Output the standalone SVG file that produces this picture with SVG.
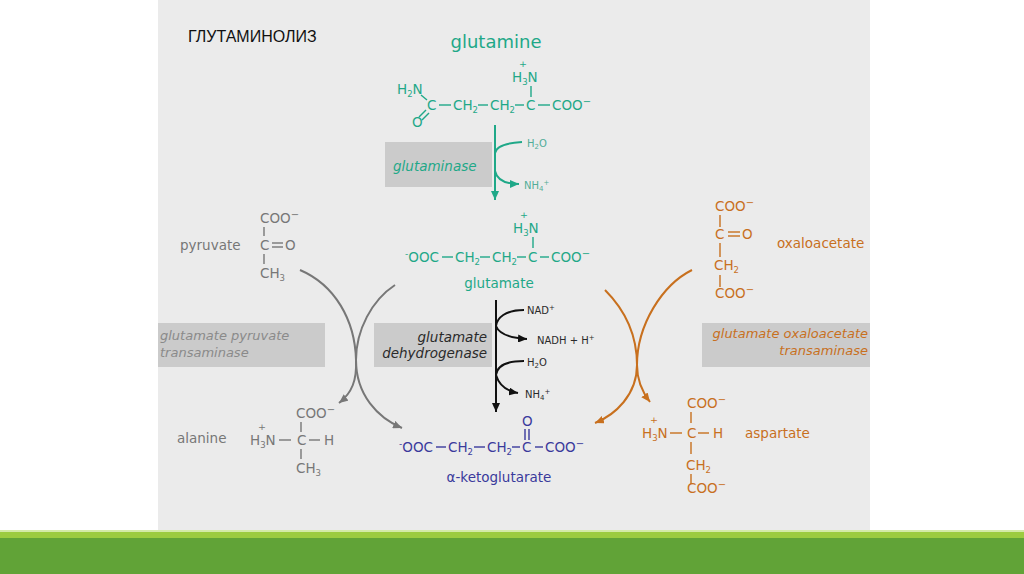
<svg xmlns="http://www.w3.org/2000/svg" width="1024" height="574" viewBox="0 0 1024 574">
<defs>
<style>
text{font-family:"DejaVu Sans",Verdana,sans-serif;font-size:13.5px}
.teal{fill:#1fa888}
.tealL{fill:#52ad98}
.gray{fill:#777777}
.org{fill:#c8701e}
.blue{fill:#3a3a9c}
.dark{fill:#2a2a2a}
.b{stroke-width:1.4;fill:none}
.bt{stroke:#1fa888}
.bg{stroke:#777777}
.bo{stroke:#c8701e}
.bb{stroke:#3a3a9c}
.sub{font-size:8.5px}
.sup{font-size:10px}
.lead{font-size:9px}
.sm{font-size:10px}
.pl{font-size:9.5px}
.enz{font-size:13.5px;font-style:italic}
.enz2{font-size:13px;font-style:italic}
.box{fill:#cbcbcb}
.cv{fill:none;stroke-width:2}
</style>
<marker id="mT" markerUnits="userSpaceOnUse" markerWidth="9" markerHeight="8" refX="9" refY="4" orient="auto"><path d="M0,0 L9,4 L0,8 z" fill="#1fa888"/></marker>
<marker id="mK" markerUnits="userSpaceOnUse" markerWidth="9" markerHeight="8" refX="9" refY="4" orient="auto"><path d="M0,0 L9,4 L0,8 z" fill="#111"/></marker>
<marker id="mG" markerUnits="userSpaceOnUse" markerWidth="9" markerHeight="8" refX="9" refY="4" orient="auto"><path d="M0,0 L9,4 L0,8 z" fill="#777"/></marker>
<marker id="mO" markerUnits="userSpaceOnUse" markerWidth="9" markerHeight="8" refX="9" refY="4" orient="auto"><path d="M0,0 L9,4 L0,8 z" fill="#c8701e"/></marker>
</defs>
<rect width="1024" height="574" fill="#ffffff"/>
<rect x="158" y="0" width="712" height="530" fill="#ebebeb"/>
<rect x="0" y="530" width="1024" height="2" fill="#d4eaa8"/>
<rect x="0" y="532" width="1024" height="6" fill="#9ccb40"/>
<rect x="0" y="538" width="1024" height="36" fill="#61a337"/>

<g id="title"><text x="188" y="42" style="font-family:'Liberation Sans',Arial,sans-serif;font-size:16px" fill="#111">ГЛУТАМИНОЛИЗ</text></g>

<g id="glutamine">
<text class="teal" x="496" y="48" text-anchor="middle" style="font-size:18px">glutamine</text>
<text class="teal" x="397" y="94">H<tspan class="sub" dy="3">2</tspan><tspan dy="-3">N</tspan></text>
<line class="b bt" x1="421" y1="95" x2="427" y2="100"/>
<text class="teal" x="427" y="110">C</text>
<line class="b bt" x1="439" y1="105" x2="451" y2="105"/>
<text class="teal" x="453" y="110">CH<tspan class="sub" dy="3">2</tspan></text>
<line class="b bt" x1="478" y1="105" x2="488" y2="105"/>
<text class="teal" x="490" y="110">CH<tspan class="sub" dy="3">2</tspan></text>
<line class="b bt" x1="515" y1="105" x2="524" y2="105"/>
<text class="teal" x="526" y="110">C</text>
<line class="b bt" x1="538" y1="105" x2="550" y2="105"/>
<text class="teal" x="552" y="110">COO<tspan class="sup" dy="-5">−</tspan></text>
<text class="teal" x="512" y="82">H<tspan class="sub" dy="3">3</tspan><tspan dy="-3">N</tspan></text>
<text class="teal pl" x="519" y="67">+</text>
<line class="b bt" x1="531" y1="86" x2="531" y2="97"/>
<text class="teal" x="412" y="127">O</text>
<line class="b bt" x1="419" y1="117" x2="426" y2="110"/>
<line class="b bt" x1="422" y1="120" x2="429" y2="113"/>
</g>

<g id="glutaminase">
<rect class="box" x="385" y="142" width="107" height="45"/>
<text class="teal enz" x="393" y="171">glutaminase</text>
<text class="tealL sm" x="527" y="147">H<tspan style="font-size:7px" dy="2">2</tspan><tspan dy="-2">O</tspan></text>
<text class="tealL sm" x="524" y="189">NH<tspan style="font-size:7px" dy="2">4</tspan><tspan style="font-size:7px" dy="-6">+</tspan></text>
</g>

<g id="glutamate">
<text class="teal" x="405" y="262"><tspan class="lead" dy="-5">-</tspan><tspan dy="5">OOC</tspan></text>
<line class="b bt" x1="442" y1="257" x2="453" y2="257"/>
<text class="teal" x="455" y="262">CH<tspan class="sub" dy="3">2</tspan></text>
<line class="b bt" x1="480" y1="257" x2="490" y2="257"/>
<text class="teal" x="492" y="262">CH<tspan class="sub" dy="3">2</tspan></text>
<line class="b bt" x1="517" y1="257" x2="526" y2="257"/>
<text class="teal" x="528" y="262">C</text>
<line class="b bt" x1="540" y1="257" x2="549" y2="257"/>
<text class="teal" x="551" y="262">COO<tspan class="sup" dy="-5">−</tspan></text>
<text class="teal" x="513" y="233">H<tspan class="sub" dy="3">3</tspan><tspan dy="-3">N</tspan></text>
<text class="teal pl" x="520" y="218">+</text>
<line class="b bt" x1="533" y1="237" x2="533" y2="248"/>
<text class="teal" x="499" y="288" text-anchor="middle">glutamate</text>
</g>

<g id="gdh">
<rect class="box" x="374" y="323" width="118" height="44"/>
<text class="dark enz" x="487" y="342" text-anchor="end">glutamate</text>
<text class="dark enz" x="487" y="358" text-anchor="end">dehydrogenase</text>
<text class="dark sm" x="527" y="314">NAD<tspan style="font-size:7px" dy="-4">+</tspan></text>
<text class="dark sm" x="537" y="344">NADH + H<tspan style="font-size:7px" dy="-4">+</tspan></text>
<text class="dark sm" x="527" y="366">H<tspan style="font-size:7px" dy="2">2</tspan><tspan dy="-2">O</tspan></text>
<text class="dark sm" x="525" y="398">NH<tspan style="font-size:7px" dy="2">4</tspan><tspan style="font-size:7px" dy="-6">+</tspan></text>
</g>

<g id="akg">
<text class="blue" x="399" y="452"><tspan class="lead" dy="-5">-</tspan><tspan dy="5">OOC</tspan></text>
<line class="b bb" x1="436" y1="447" x2="446" y2="447"/>
<text class="blue" x="448" y="452">CH<tspan class="sub" dy="3">2</tspan></text>
<line class="b bb" x1="474" y1="447" x2="485" y2="447"/>
<text class="blue" x="487" y="452">CH<tspan class="sub" dy="3">2</tspan></text>
<line class="b bb" x1="512" y1="447" x2="520" y2="447"/>
<text class="blue" x="522" y="452">C</text>
<line class="b bb" x1="535" y1="447" x2="543" y2="447"/>
<text class="blue" x="545" y="452">COO<tspan class="sup" dy="-5">−</tspan></text>
<text class="blue" x="522" y="426">O</text>
<line class="b bb" x1="525" y1="429" x2="525" y2="440"/>
<line class="b bb" x1="529" y1="429" x2="529" y2="440"/>
<text class="blue" x="499" y="482" text-anchor="middle">α-ketoglutarate</text>
</g>

<g id="pyruvate">
<text class="gray" x="180" y="250">pyruvate</text>
<text class="gray" x="260" y="223">COO<tspan class="sup" dy="-5">−</tspan></text>
<line class="b bg" x1="264" y1="227" x2="264" y2="236"/>
<text class="gray" x="260" y="250">C</text>
<line class="b bg" x1="272" y1="243" x2="283" y2="243"/>
<line class="b bg" x1="272" y1="247" x2="283" y2="247"/>
<text class="gray" x="285" y="250">O</text>
<line class="b bg" x1="264" y1="254" x2="264" y2="264"/>
<text class="gray" x="260" y="278">CH<tspan class="sub" dy="3">3</tspan></text>
</g>

<g id="gpt">
<rect class="box" x="158" y="323" width="167" height="44"/>
<text class="enz2" fill="#8a8a8a" x="160" y="340">glutamate pyruvate</text>
<text class="enz2" fill="#8a8a8a" x="160" y="357">transaminase</text>
</g>

<g id="alanine">
<text class="gray" x="177" y="443">alanine</text>
<text class="gray" x="296" y="418">COO<tspan class="sup" dy="-5">−</tspan></text>
<line class="b bg" x1="301" y1="422" x2="301" y2="432"/>
<text class="gray" x="250" y="445">H<tspan class="sub" dy="3">3</tspan><tspan dy="-3">N</tspan></text>
<text class="gray pl" x="258" y="430">+</text>
<line class="b bg" x1="279" y1="440" x2="291" y2="440"/>
<text class="gray" x="297" y="445">C</text>
<line class="b bg" x1="309" y1="440" x2="320" y2="440"/>
<text class="gray" x="324" y="445">H</text>
<line class="b bg" x1="301" y1="449" x2="301" y2="459"/>
<text class="gray" x="296" y="473">CH<tspan class="sub" dy="3">3</tspan></text>
</g>

<g id="oxaloacetate">
<text class="org" x="777" y="248">oxaloacetate</text>
<text class="org" x="715" y="211">COO<tspan class="sup" dy="-5">−</tspan></text>
<line class="b bo" x1="720" y1="215" x2="720" y2="227"/>
<text class="org" x="715" y="239">C</text>
<line class="b bo" x1="728" y1="232" x2="740" y2="232"/>
<line class="b bo" x1="728" y1="236" x2="740" y2="236"/>
<text class="org" x="742" y="239">O</text>
<line class="b bo" x1="720" y1="243" x2="720" y2="257"/>
<text class="org" x="714" y="270">CH<tspan class="sub" dy="3">2</tspan></text>
<line class="b bo" x1="720" y1="275" x2="720" y2="287"/>
<text class="org" x="715" y="298">COO<tspan class="sup" dy="-5">−</tspan></text>
</g>

<g id="got">
<rect class="box" x="702" y="323" width="168" height="44"/>
<text class="org enz2" x="868" y="338" text-anchor="end">glutamate oxaloacetate</text>
<text class="org enz2" x="868" y="355" text-anchor="end">transaminase</text>
</g>

<g id="aspartate">
<text class="org" x="745" y="438">aspartate</text>
<text class="org" x="687" y="408">COO<tspan class="sup" dy="-5">−</tspan></text>
<line class="b bo" x1="691" y1="412" x2="691" y2="423"/>
<text class="org" x="642" y="438">H<tspan class="sub" dy="3">3</tspan><tspan dy="-3">N</tspan></text>
<text class="org pl" x="650" y="423">+</text>
<line class="b bo" x1="670" y1="433" x2="682" y2="433"/>
<text class="org" x="687" y="438">C</text>
<line class="b bo" x1="698" y1="433" x2="709" y2="433"/>
<text class="org" x="713" y="438">H</text>
<line class="b bo" x1="691" y1="442" x2="691" y2="454"/>
<text class="org" x="686" y="470">CH<tspan class="sub" dy="3">2</tspan></text>
<line class="b bo" x1="691" y1="474" x2="691" y2="484"/>
<text class="org" x="687" y="493">COO<tspan class="sup" dy="-5">−</tspan></text>
</g>

<g id="connectors">
<line x1="495" y1="125" x2="495" y2="200" stroke="#1fa888" stroke-width="2" marker-end="url(#mT)"/>
<path class="cv" stroke="#1fa888" d="M522,142 C505,143 496,146 495,153"/>
<path class="cv" stroke="#1fa888" d="M495,171 C497,180 505,184 519,184" marker-end="url(#mT)"/>
<line x1="496" y1="300" x2="496" y2="412" stroke="#111" stroke-width="2" marker-end="url(#mK)"/>
<path class="cv" stroke="#111" d="M524,310 C505,310 497,318 496,326 C499,334 510,338 527,339" marker-end="url(#mK)"/>
<path class="cv" stroke="#111" d="M524,361 C505,361 497,367 496,375 C499,385 506,391 518,393" marker-end="url(#mK)"/>
<path class="cv" stroke="#777" d="M300,270 C335,285 355,320 356,360 C357,380 352,393 339,403" marker-end="url(#mG)"/>
<path class="cv" stroke="#777" d="M395,285 C372,300 356,330 356,360 C356,395 378,418 402,428" marker-end="url(#mG)"/>
<path class="cv" stroke="#c8701e" d="M605,290 C625,310 637,335 637,365 C637,395 615,415 595,423" marker-end="url(#mO)"/>
<path class="cv" stroke="#c8701e" d="M692,270 C662,285 637,325 637,365 C637,382 643,393 650,402" marker-end="url(#mO)"/>
</g>
</svg>
